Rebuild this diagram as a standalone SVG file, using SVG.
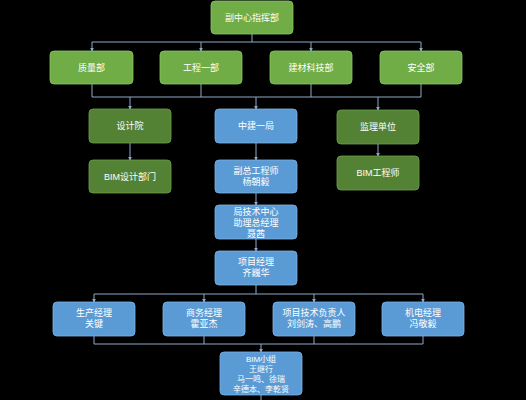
<svg xmlns="http://www.w3.org/2000/svg" width="526" height="400" viewBox="0 0 526 400">
<defs>
<marker id="ah" viewBox="0 0 6 6" refX="5" refY="3" markerWidth="4" markerHeight="4" orient="auto">
<path d="M0,0 L6,3 L0,6 z" fill="#8EA9C8"/>
</marker>
<style>
.g1{fill:#70AD47;stroke:#8CC46A;stroke-width:0.8}
.g2{fill:#548235;stroke:#6E9E4C;stroke-width:0.8}
.b{fill:#5B9BD5;stroke:#7DB2E3;stroke-width:0.8}
text{font-family:"Liberation Sans","Noto Sans CJK SC",sans-serif;font-size:9px;fill:#FFFFFF;text-anchor:middle}
.s{font-size:8px}
.c{fill:none;stroke:#8EA9C8;stroke-width:1}
.a{fill:none;stroke:#8EA9C8;stroke-width:1;marker-end:url(#ah)}
</style>
</defs>
<rect width="526" height="400" fill="#000000"/>
<g id="connectors">
<path class="c" d="M252,34 V42 M92,42 H421"/>
<path class="a" d="M92,42 V51"/>
<path class="a" d="M201,42 V51"/>
<path class="a" d="M311,42 V51"/>
<path class="a" d="M421,42 V51"/>
<path class="c" d="M92,84 V97 M201,84 V97 M311,84 V97 M421,84 V97 M92,97 H421"/>
<path class="a" d="M130,97 V109"/>
<path class="a" d="M256,97 V109"/>
<path class="a" d="M378,97 V110"/>
<path class="a" d="M130,143 V160"/>
<path class="a" d="M256,143 V160"/>
<path class="a" d="M378,144 V156"/>
<path class="a" d="M256,193 V205"/>
<path class="a" d="M256,239 V251"/>
<path class="c" d="M256,285 V294 M94,294 H423"/>
<path class="a" d="M94,294 V302"/>
<path class="a" d="M204,294 V302"/>
<path class="a" d="M314,294 V302"/>
<path class="a" d="M423,294 V302"/>
<path class="c" d="M94,336 V344 M204,336 V344 M314,336 V344 M423,336 V344 M94,344 H423"/>
<path class="a" d="M261,344 V352"/>
<path class="c" d="M261,395 V400"/>
</g>
<g id="n-top"><rect class="g1" x="211" y="1" width="82" height="33" rx="4"/><text x="252" y="21">副中心指挥部</text></g>
<g id="n-zl"><rect class="g1" x="50" y="51" width="83" height="33" rx="4"/><text x="91.5" y="71">质量部</text></g>
<g id="n-gc"><rect class="g1" x="160" y="51" width="82" height="33" rx="4"/><text x="201" y="71">工程一部</text></g>
<g id="n-jc"><rect class="g1" x="270" y="51" width="82" height="33" rx="4"/><text x="311" y="71">建材科技部</text></g>
<g id="n-aq"><rect class="g1" x="380" y="51" width="82" height="33" rx="4"/><text x="421" y="71">安全部</text></g>
<g id="n-sjy"><rect class="g2" x="89" y="109" width="82" height="34" rx="4"/><text x="130" y="129">设计院</text></g>
<g id="n-zj"><rect class="b" x="215" y="109" width="82" height="34" rx="4"/><text x="256" y="129">中建一局</text></g>
<g id="n-jl"><rect class="g2" x="337" y="110" width="82" height="34" rx="4"/><text x="378" y="130">监理单位</text></g>
<g id="n-bimsj"><rect class="g2" x="89" y="160" width="82" height="33" rx="4"/><text x="130" y="180">BIM设计部门</text></g>
<g id="n-fz"><rect class="b" x="215" y="160" width="82" height="33" rx="4"/><text x="256" y="174">副总工程师</text><text x="256" y="185">杨朝毅</text></g>
<g id="n-bimgc"><rect class="g2" x="337" y="156" width="82" height="34" rx="4"/><text x="378" y="176">BIM工程师</text></g>
<g id="n-jjs"><rect class="b" x="215" y="205" width="82" height="34" rx="4"/><text x="256" y="215">局技术中心</text><text x="256" y="226">助理总经理</text><text x="256" y="237">聂茜</text></g>
<g id="n-xm"><rect class="b" x="215" y="251" width="82" height="34" rx="4"/><text x="256" y="265">项目经理</text><text x="256" y="276">齐巍华</text></g>
<g id="n-sc"><rect class="b" x="53" y="302" width="82" height="34" rx="4"/><text x="94" y="316">生产经理</text><text x="94" y="327">关键</text></g>
<g id="n-sw"><rect class="b" x="163" y="302" width="82" height="34" rx="4"/><text x="204" y="316">商务经理</text><text x="204" y="327">霍亚杰</text></g>
<g id="n-js"><rect class="b" x="273" y="302" width="82" height="34" rx="4"/><text x="314" y="316">项目技术负责人</text><text x="314" y="327">刘剑涛、高鹏</text></g>
<g id="n-jd"><rect class="b" x="382" y="302" width="82" height="34" rx="4"/><text x="423" y="316">机电经理</text><text x="423" y="327">冯敬毅</text></g>
<g id="n-bim"><rect class="b" x="220" y="352" width="82" height="43" rx="4"/><text class="s" x="261" y="361.5">BIM小组</text><text class="s" x="261" y="371.5">王继行</text><text class="s" x="261" y="381.5">马一鸣、徐瑞</text><text class="s" x="261" y="391.5">辛德本、李乾贤</text></g>
</svg>
